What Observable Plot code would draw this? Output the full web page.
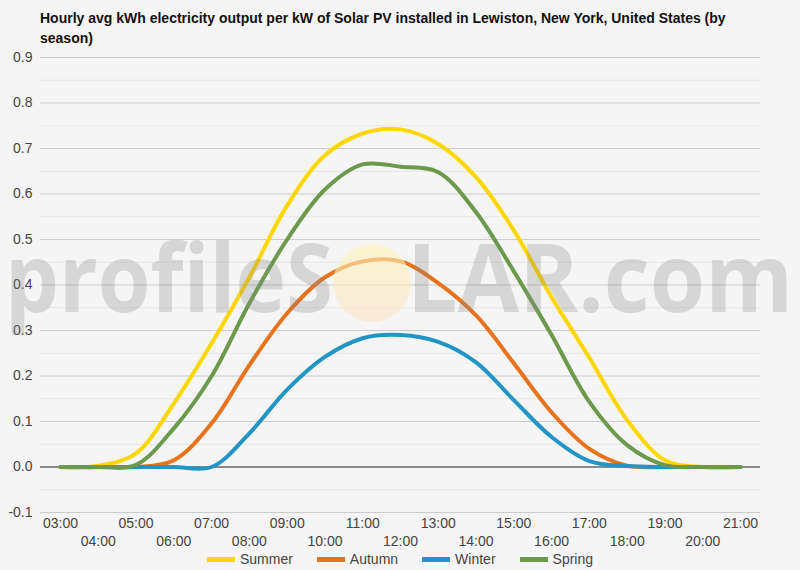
<!DOCTYPE html>
<html>
<head>
<meta charset="utf-8">
<script src="https://cdn.jsdelivr.net/npm/d3@7"></script>
<script src="https://cdn.jsdelivr.net/npm/@observablehq/plot@0.6"></script>
<style>
  html, body { margin: 0; padding: 0; background: #f5f5f5; }
  body { width: 800px; height: 570px; overflow: hidden; font-family: "Liberation Sans", Arial, sans-serif; }
  #title { box-sizing: border-box; height: 48px; padding: 8px 0 0 40px; font-size: 14px; font-weight: bold; line-height: 20px; color: #111; }
  #chart { position: relative; height: 500px; }
  #legend { height: 22px; display: flex; justify-content: center; align-items: center; font-size: 14px; color: #444; }
  .item { display: flex; align-items: center; margin: 0 12px; }
  .sw { width: 28px; height: 5px; margin-right: 5px; }
</style>
</head>
<body>
<div id="title">Hourly avg kWh electricity output per kW of Solar PV installed in Lewiston, New York, United States (by<br>season)</div>
<div id="chart"></div>
<div id="legend"></div>
<script>
const hours = [3, 4, 5, 6, 7, 8, 9, 10, 11, 12, 13, 14, 15, 16, 17, 18, 19, 20, 21];
const seasons = ["Summer", "Autumn", "Winter", "Spring"];
const seasonColors = ["#ffd700", "#e8731c", "#2295c6", "#6b9a4d"];
const summer = [0, 0.003, 0.03, 0.14, 0.272, 0.417, 0.575, 0.685, 0.733, 0.742, 0.71, 0.637, 0.52, 0.373, 0.24, 0.103, 0.015, 0, 0];
const autumn = [0, 0, 0, 0.015, 0.096, 0.224, 0.338, 0.417, 0.452, 0.452, 0.404, 0.333, 0.228, 0.12, 0.04, 0.003, 0, 0, 0];
const winter = [0, 0, 0, 0, 0, 0.074, 0.17, 0.242, 0.283, 0.29, 0.275, 0.23, 0.147, 0.066, 0.013, 0.002, 0, 0, 0];
const spring = [0, 0, 0.005, 0.085, 0.2, 0.36, 0.5, 0.61, 0.665, 0.66, 0.648, 0.56, 0.43, 0.29, 0.143, 0.048, 0.004, 0, 0];
const yTicks = [-0.1, 0.0, 0.1, 0.2, 0.3, 0.4, 0.5, 0.6, 0.7, 0.8, 0.9];
const yMinor = [-0.05, 0.05, 0.15, 0.25, 0.35, 0.45, 0.55, 0.65, 0.75, 0.85];
const xTicksTop = [3, 5, 7, 9, 11, 13, 15, 17, 19, 21];
const xTicksBottom = [4, 6, 8, 10, 12, 14, 16, 18, 20];

const series = [summer, autumn, winter, spring];
const rows = [];
seasons.forEach((s, i) => hours.forEach((h, j) => rows.push({season: s, hour: h, value: series[i][j]})));

const fmt = d => String(d).padStart(2, "0") + ":00";

const plot = Plot.plot({
  width: 800,
  height: 500,
  marginLeft: 40,
  marginRight: 40,
  marginTop: 9,
  marginBottom: 36,
  style: {background: "transparent", fontFamily: "'Liberation Sans', Arial, sans-serif", fontSize: "14px", color: "#444"},
  x: {domain: [3, 21], inset: 20},
  y: {domain: [-0.1, 0.9]},
  color: {domain: seasons, range: seasonColors},
  marks: [
    Plot.ruleY(yMinor, {stroke: "#e6e6e6", strokeWidth: 1}),
    Plot.ruleY(yTicks, {stroke: "#cccccc", strokeWidth: 1}),
    Plot.ruleY([0], {stroke: "#333333", strokeWidth: 1}),
    Plot.axisY({ticks: yTicks, tickSize: 0, tickPadding: 8, tickFormat: d => d.toFixed(1), label: null, fontSize: 14}),
    Plot.axisX({ticks: xTicksTop, tickSize: 0, tickPadding: 6, tickFormat: fmt, label: null, fontSize: 14}),
    Plot.axisX({ticks: xTicksBottom, tickSize: 0, tickPadding: 24, tickFormat: fmt, label: null, fontSize: 14}),
    Plot.line(rows, {x: "hour", y: "value", z: "season", stroke: "season", curve: "catmull-rom", strokeWidth: 4, strokeLinejoin: "round"})
  ]
});
document.getElementById("chart").appendChild(plot);

// watermark overlay (decoration)
const svg = d3.select(plot);
const defs = svg.append("defs");
const grad = defs.append("linearGradient").attr("id", "sunGrad").attr("x1", 0).attr("y1", 0).attr("x2", 0).attr("y2", 1);
grad.append("stop").attr("offset", "0%").attr("stop-color", "#fff6b8");
grad.append("stop").attr("offset", "100%").attr("stop-color", "#f9e2c6");
const wm = svg.append("g").attr("pointer-events", "none").attr("text-anchor", "start");
wm.append("circle").attr("cx", 372).attr("cy", 235).attr("r", 39).attr("fill", "url(#sunGrad)").attr("opacity", 0.6);
wm.append("text").attr("x", 5).attr("y", 264).attr("text-anchor", "start").text("profileS")
  .attr("font-family", "'Open Sans', sans-serif").attr("font-weight", 700).attr("font-size", 95)
  .attr("textLength", 328).attr("lengthAdjust", "spacingAndGlyphs")
  .attr("fill", "#888").attr("opacity", 0.28);
wm.append("text").attr("x", 407).attr("y", 264).attr("text-anchor", "start").text("LAR.com")
  .attr("font-family", "'Open Sans', sans-serif").attr("font-weight", 700).attr("font-size", 95)
  .attr("textLength", 386).attr("lengthAdjust", "spacingAndGlyphs")
  .attr("fill", "#888").attr("opacity", 0.28);

// legend
const legend = d3.select("#legend");
seasons.forEach((s, i) => {
  const it = legend.append("div").attr("class", "item");
  it.append("div").attr("class", "sw").style("background", seasonColors[i]);
  it.append("span").text(s);
});
</script>
</body>
</html>
